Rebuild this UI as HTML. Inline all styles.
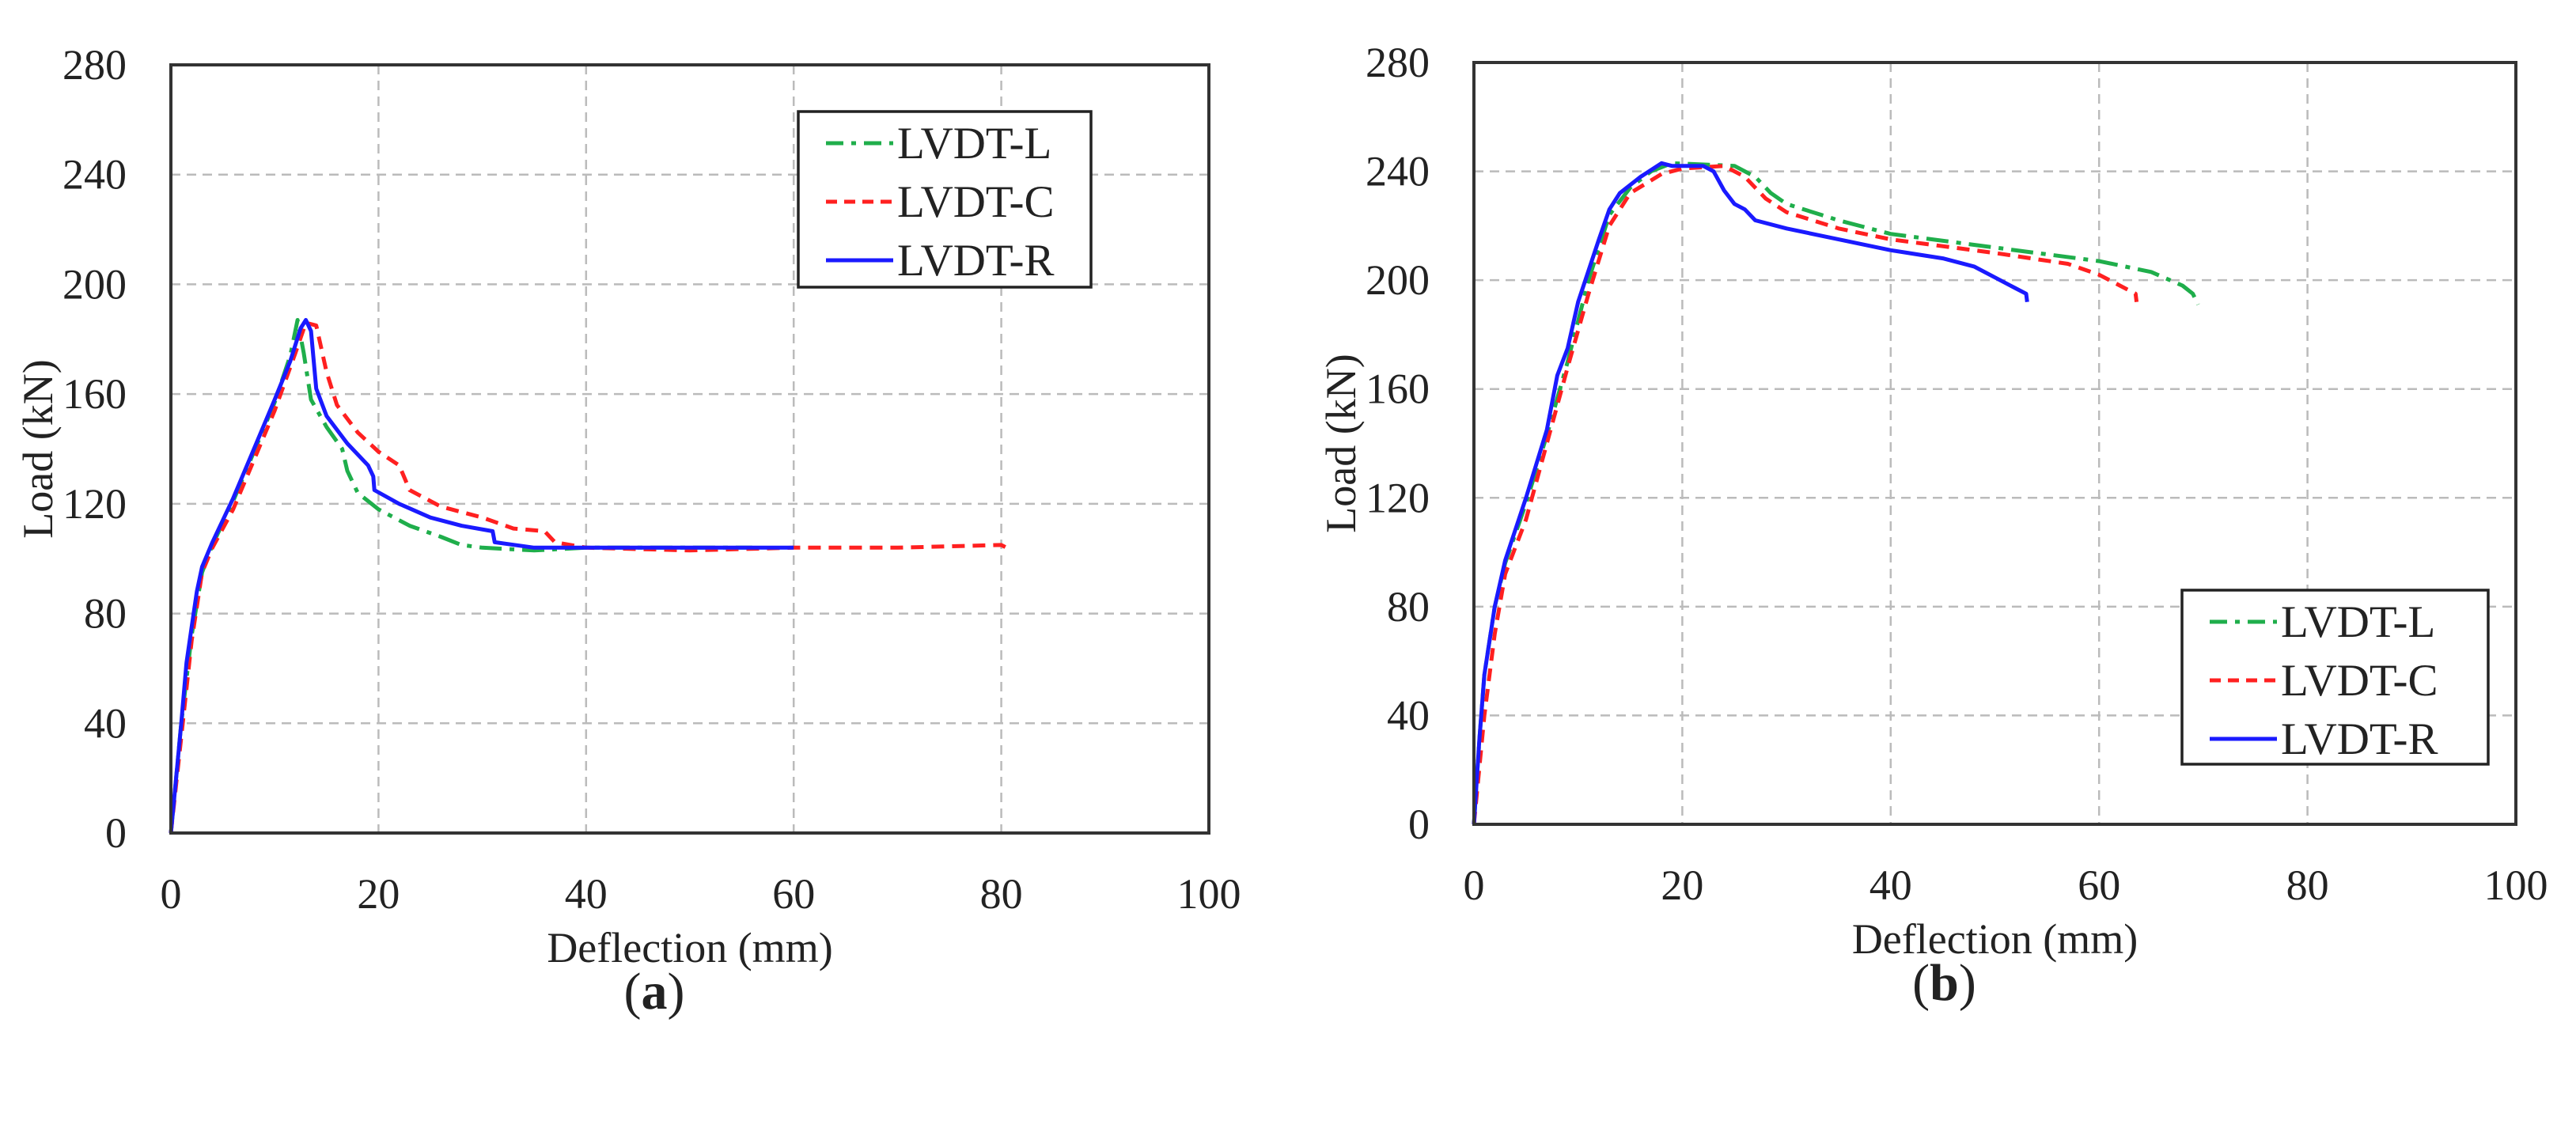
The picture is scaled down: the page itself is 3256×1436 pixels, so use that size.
<!DOCTYPE html>
<html><head><meta charset="utf-8"><style>
html,body{margin:0;padding:0;background:#fff;}
svg{display:block;}
text{font-family:"Liberation Serif",serif;fill:#222;}
</style></head>
<body>
<svg id="fig" width="3256" height="1436" viewBox="0 0 3256 1436"></svg>
<script>
const xTicks = [0,20,40,60,80,100];
const yTicks = [0,40,80,120,160,200,240,280];
const seriesNames = ['LVDT-L','LVDT-C','LVDT-R'];

const aL_x = [0,0.5,1,2,3,4,5,6,8,10,11.5,12.2,12.8,13.5,15,16.5,17,18,20,23,26,28,30,35,40,50,56];
const aL_y = [0,20,40,72,95,105,113,121,139,157,174,187,175,158,148,140,132,124,118,112,108,105,104,103,104,104,104];
const aC_x = [0,1,2,3,4,6,8,10,12,13,14,15,16,18,20,22,23,26,30,33,36,37,40,50,60,70,80,81];
const aC_y = [0,35,70,95,104,118,136,154,175,186,185,168,156,146,139,134,125,119,115,111,110,106,104,103,104,104,105,103];
const aR_x = [0,0.5,1,1.5,2,2.5,3,4,5,6,8,10,11.5,12.5,13,13.5,14,15,17,19,19.5,19.6,22,25,28,31,31.2,35,40,60];
const aR_y = [0,20,40,62,75,88,97,106,114,122,140,158,172,184,187,183,162,152,142,134,130,125,120,115,112,110,106,104,104,104];

const bL_x = [0,0.5,1,2,3,5,7,9,11,13,15,17,19,25,27,28.5,30,35,40,50,60,65,68,69,69.5];
const bL_y = [0,30,55,80,96,118,143,170,200,224,234,240,243,242,238,232,228,222,217,212,207,203,198,195,191];
const bC_x = [0,1,2,3,5,7,9,11,13,15,18,20,24,26,28,30,35,40,50,57,60,62,63.5,63.6];
const bC_y = [0,40,70,92,112,140,168,195,220,232,239,241,242,238,230,225,219,215,210,206,202,198,195,192];
const bR_x = [0,0.5,1,2,3,5,7,8,9,10,12,13,14,16,18,19,22,23,24,25,26,27,30,35,40,45,48,50,52,53,53.1];
const bR_y = [0,30,55,80,97,120,145,165,175,192,215,226,232,238,243,242,242,240,233,228,226,222,219,215,211,208,205,201,197,195,192];

const NS='http://www.w3.org/2000/svg';
const svg=document.getElementById('fig');
function mk(tag,attrs,parent){const e=document.createElementNS(NS,tag);for(const k in attrs)e.setAttribute(k,attrs[k]);(parent||svg).appendChild(e);return e;}

const styles=[
 {color:'#1fae4b',dash:'28 10 6 10'},
 {color:'#ff2020',dash:'16 10'},
 {color:'#1a1aff',dash:''}
];

function panel(id,box,data,legend,letter,capOff){
  const g=mk('g',{});
  
  
  const X=v=>box.x0+(v/100)*(box.x1-box.x0);
  const Y=v=>box.y1-(v/280)*(box.y1-box.y0);
  xTicks.forEach(t=>{ if(t>0&&t<100){const l=mk('line',{x1:X(t),x2:X(t),y1:box.y0,y2:box.y1,stroke:'#bbb','stroke-width':2.5,'stroke-dasharray':'12 8'},g);
    
    }});
  yTicks.forEach(t=>{ if(t>0&&t<280){const l=mk('line',{x1:box.x0,x2:box.x1,y1:Y(t),y2:Y(t),stroke:'#bbb','stroke-width':2.5,'stroke-dasharray':'12 8'},g);
    
    }});
  data.forEach((d,i)=>{
    const pts=d[0].map((x,j)=>X(x).toFixed(1)+','+Y(d[1][j]).toFixed(1)).join(' ');
    const p=mk('polyline',{points:pts,fill:'none',stroke:styles[i].color,'stroke-width':5,'stroke-linejoin':'round'},g);
    if(styles[i].dash)p.setAttribute('stroke-dasharray',styles[i].dash);
    
    
  });
  const f=mk('rect',{x:box.x0,y:box.y0,width:box.x1-box.x0,height:box.y1-box.y0,fill:'none',stroke:'#333','stroke-width':4},g);
  
  
  xTicks.forEach(t=>{const e=mk('text',{x:X(t),y:box.y1+95,'font-size':54,'text-anchor':'middle'},g);e.textContent=t;
    
    });
  yTicks.forEach(t=>{const e=mk('text',{x:box.x0-56,y:Y(t)+18,'font-size':54,'text-anchor':'end'},g);e.textContent=t;
    
    });
  const xt=mk('text',{x:(box.x0+box.x1)/2,y:box.y1+163,'font-size':54,'text-anchor':'middle'},g);xt.textContent='Deflection (mm)';
  
  
  const yx=box.x0-150, yy=(box.y0+box.y1)/2;
  const yt=mk('text',{x:yx,y:yy,'font-size':54,'text-anchor':'middle',transform:`rotate(-90 ${yx} ${yy})`},g);yt.textContent='Load (kN)';
  
  
  const lg=mk('g',{},g);
  
  
  mk('rect',{x:legend.x,y:legend.y,width:legend.w,height:legend.h,fill:'#fff',stroke:'#222','stroke-width':3.5},lg);
  seriesNames.forEach((n,i)=>{
    const cy=legend.y+40+i*74;
    const l=mk('line',{x1:legend.x+35,x2:legend.x+120,y1:cy,y2:cy,stroke:styles[i].color,'stroke-width':5},lg);
    if(styles[i].dash)l.setAttribute('stroke-dasharray',i==0?'22 10 6 10':'14 9');
    
    
    const t=mk('text',{x:legend.x+125,y:cy+19,'font-size':57},lg);t.textContent=n;
    
    
  });
  const cap=mk('text',{x:(box.x0+box.x1)/2+capOff,y:box.y1+222,'font-size':66,'text-anchor':'middle'},g);
  cap.innerHTML='(<tspan font-weight="bold">'+letter+'</tspan>)';
  
  
}

panel('a',{x0:216,x1:1528,y0:82,y1:1053},[[aL_x,aL_y],[aC_x,aC_y],[aR_x,aR_y]],{x:1009,y:141,w:370,h:222},'a',-45);
panel('b',{x0:1863,x1:3180,y0:79,y1:1042},[[bL_x,bL_y],[bC_x,bC_y],[bR_x,bR_y]],{x:2758,y:746,w:387,h:220},'b',-64);
</script>
</body></html>
